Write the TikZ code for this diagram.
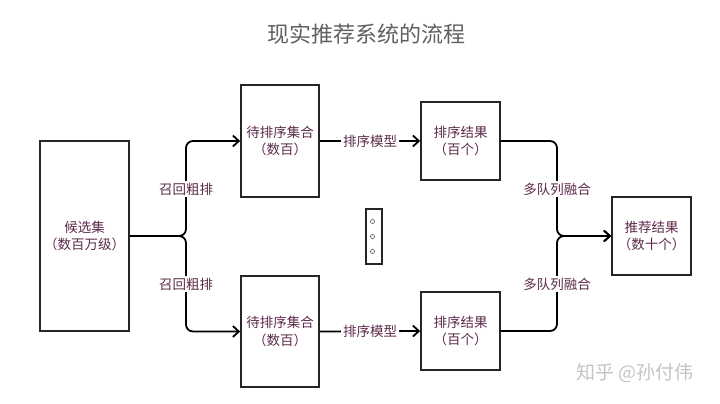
\documentclass[tikz,border=0pt]{standalone}
\usepackage{fontspec}
\setmainfont{Noto Sans CJK SC}
\usetikzlibrary{arrows.meta}
\definecolor{txt}{HTML}{5C2A4A}
\definecolor{ttl}{HTML}{606060}
\definecolor{wm}{HTML}{C4C4C4}
\tikzset{
  box/.style={draw=black!85, line width=1.6pt, minimum width=#1, inner sep=0pt, text=txt, align=center, font=\fontsize{13.5}{17.5}\selectfont},
  conn/.style={line width=1.8pt, black, rounded corners=7pt},
  arr/.style={-{Straight Barb[length=6pt,width=11pt,line width=1.8pt]}},
  lbl/.style={fill=white, text=txt, font=\fontsize{13.5}{15}\selectfont, inner sep=2pt}
}
\begin{document}
\begin{tikzpicture}[x=1pt,y=-1pt]
\useasboundingbox (0,0) rectangle (720,404);
\node[text=ttl, font=\fontsize{22}{25}\selectfont] (title) at (366,34) {现实推荐系统的流程};
\node[box=89pt, minimum height=190pt] (cand) at (84.5,236) {候选集\\（数百万级）};
\node[box=78pt, minimum height=112pt] (s1) at (280,141) {待排序集合\\（数百）};
\node[box=78pt, minimum height=111pt] (s2) at (280,331.5) {待排序集合\\（数百）};
\node[box=79pt, minimum height=78pt] (r1) at (460.5,141) {排序结果\\（百个）};
\node[box=79pt, minimum height=78pt] (r2) at (460.5,331) {排序结果\\（百个）};
\node[box=79pt, minimum height=78pt] (fin) at (651.5,236) {推荐结果\\（数十个）};
\node[draw=black!85, line width=1.3pt, minimum width=16pt, minimum height=55pt, inner sep=0pt] (dots) at (374,236.5) {};
\foreach \yy in {-15,0,15} \draw[black!70, line width=0.6pt] ([yshift=-\yy pt]dots.center) ++(-1.5,0) circle (2pt);
\coordinate (b1) at (186,236);
\coordinate (m1) at (557,236);
\draw[conn, arr] (cand.east) -- (b1) |- (s1.west);
\draw[conn, arr] (cand.east) -- (b1) |- (s2.west);
\draw[conn, arr] (r1.east) -| (m1) -- (fin.west);
\draw[conn, arr] (r2.east) -| (m1) -- (fin.west);
\draw[conn, arr] (s1.east) -- node[lbl] (l1) {排序模型} (r1.west);
\draw[conn, arr] (s2.east) -- node[lbl] (l2) {排序模型} (r2.west);
\node[lbl] (c1) at (186,189) {召回粗排};
\node[lbl] (c2) at (186,284) {召回粗排};
\node[lbl] (f1) at (557,189) {多队列融合};
\node[lbl] (f2) at (557,284) {多队列融合};
\node[text=wm, font=\fontsize{19}{22}\selectfont, anchor=center] (wmk) at (635,373) {知乎 @孙付伟};
\end{tikzpicture}
\end{document}
